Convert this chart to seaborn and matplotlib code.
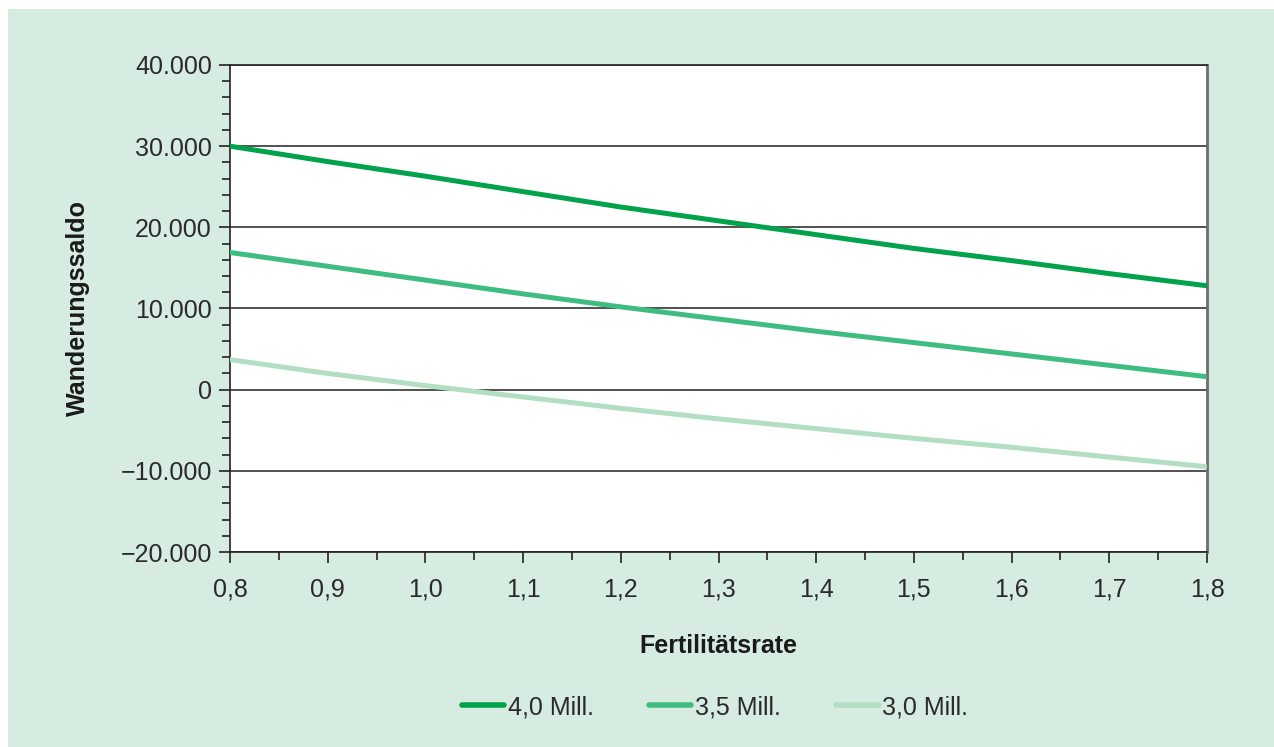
import matplotlib
matplotlib.use("Agg")
import matplotlib.pyplot as plt
import matplotlib.ticker as mticker
from matplotlib.patches import Rectangle
from matplotlib.lines import Line2D
import seaborn as sns
import pandas as pd

fert = [0.8, 0.9, 1.0, 1.1, 1.2, 1.3, 1.4, 1.5, 1.6, 1.7, 1.8]
s40 = [30000, 28100, 26300, 24400, 22500, 20800, 19100, 17400, 15900, 14300, 12800]
s35 = [16900, 15200, 13500, 11800, 10200, 8700, 7200, 5800, 4400, 3000, 1600]
s30 = [3700, 2000, 500, -900, -2300, -3600, -4800, -6000, -7100, -8300, -9500]
series_names = ["4,0 Mill.", "3,5 Mill.", "3,0 Mill."]
colors = ["#00a24c", "#3fbc7f", "#b2dfc3"]

rows = []
for name, vals in zip(series_names, [s40, s35, s30]):
    for x, v in zip(fert, vals):
        rows.append({"Fertilitätsrate": x, "Wanderungssaldo": v, "Serie": name})
df = pd.DataFrame(rows)

sns.set_theme(style="white")
plt.rcParams["font.family"] = ["Liberation Sans", "DejaVu Sans"]

bg = "#d6ece0"
fig = plt.figure(figsize=(12.74, 7.47), dpi=100, facecolor="white")
fig.patches.append(Rectangle((8 / 1274, 0), 1, 1 - 9 / 747, transform=fig.transFigure,
                             facecolor=bg, edgecolor="none", zorder=-10))
ax = fig.add_axes([230 / 1274, (747 - 552) / 747, (1207 - 230) / 1274, (552 - 65) / 747])
ax.set_facecolor("white")

sns.lineplot(data=df, x="Fertilitätsrate", y="Wanderungssaldo", hue="Serie",
             palette=dict(zip(series_names, colors)), linewidth=3.6, ax=ax,
             legend=False, zorder=3, solid_capstyle="round")

ax.set_xlim(0.8, 1.8)
ax.set_ylim(-20000, 40000)
ax.yaxis.set_major_locator(mticker.MultipleLocator(10000))
ax.yaxis.set_minor_locator(mticker.MultipleLocator(2000))
ax.xaxis.set_major_locator(mticker.MultipleLocator(0.1))
ax.xaxis.set_minor_locator(mticker.MultipleLocator(0.05))

def yfmt(v, pos):
    s = f"{abs(int(round(v))):,}".replace(",", ".")
    return ("\u2212" + s) if v < 0 else s

ax.yaxis.set_major_formatter(mticker.FuncFormatter(yfmt))
ax.xaxis.set_major_formatter(mticker.FuncFormatter(lambda v, p: f"{v:.1f}".replace(".", ",")))

ax.grid(axis="y", which="major", color="#222222", linewidth=1.1, zorder=1)
ax.grid(axis="x", visible=False)
ax.set_axisbelow(True)

for side in ["left", "bottom", "top"]:
    ax.spines[side].set_color("#222222")
    ax.spines[side].set_linewidth(1.2)
ax.spines["right"].set_color("#6e6e6e")
ax.spines["right"].set_linewidth(2)

ax.tick_params(axis="both", which="major", direction="out", length=8, width=1.2,
               color="#222222", labelsize=18, labelcolor="#2a2a2a",
               left=True, bottom=True)
ax.tick_params(axis="y", which="major", pad=5)
ax.tick_params(axis="x", which="major", pad=10)
ax.tick_params(axis="both", which="minor", direction="out", length=6, width=1.2,
               color="#222222", left=True, bottom=True)

ax.set_xlabel("Fertilitätsrate", fontsize=18, fontweight="bold", color="#1a1a1a", labelpad=24)
ax.set_ylabel("Wanderungssaldo", fontsize=18, fontweight="bold", color="#1a1a1a", labelpad=22)

handles = [Line2D([0], [0], color=c, linewidth=4, solid_capstyle="round") for c in colors]
fig.legend(handles, series_names, loc="center", bbox_to_anchor=(715 / 1274, 1 - 707 / 747),
           ncol=3, frameon=False, fontsize=18, handlelength=1.7, handletextpad=0.15,
           columnspacing=2.2, labelcolor="#2a2a2a")

fig.savefig("out.png", dpi=100, facecolor="white")
